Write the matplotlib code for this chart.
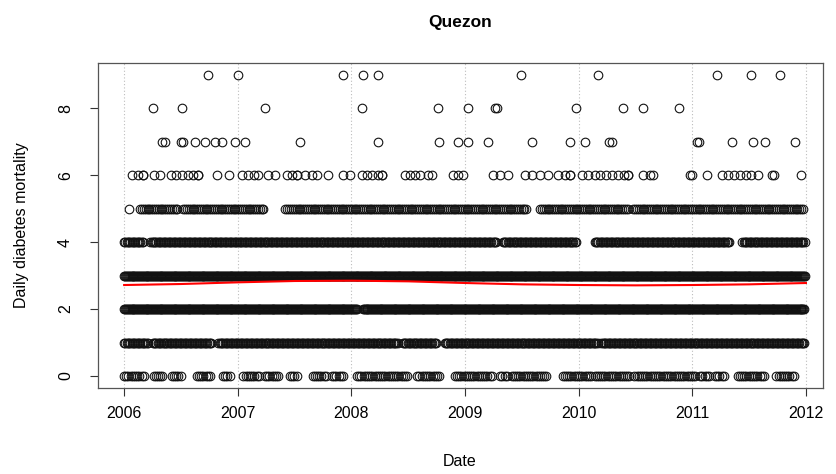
import numpy as np
import matplotlib
matplotlib.use("Agg")
import matplotlib.pyplot as plt

plt.rcParams['font.family'] = ['Liberation Sans', 'DejaVu Sans']

# Quezon daily diabetes deaths (x in fractional years).
# Busy count levels: stretches where the circles form an unbroken chain.
runs = {
    0: [(2006.00, 2006.19), (2006.26, 2006.34), (2006.42, 2006.51), (2006.64, 2006.76),
        (2006.87, 2006.93), (2007.05, 2007.20), (2007.24, 2007.37), (2007.46, 2007.53),
        (2007.66, 2007.78), (2007.83, 2007.94), (2008.05, 2008.50), (2008.58, 2008.78),
        (2008.91, 2009.25), (2009.31, 2009.37), (2009.41, 2009.72), (2009.86, 2010.12),
        (2010.14, 2010.45), (2010.49, 2011.04), (2011.07, 2011.15), (2011.20, 2011.29),
        (2011.40, 2011.64), (2011.74, 2011.90)],
    1: [(2006.00, 2006.21), (2006.25, 2006.77), (2006.83, 2008.41), (2008.45, 2008.75),
        (2008.82, 2010.17), (2010.20, 2011.99)],
    2: [(2006.00, 2008.05), (2008.10, 2011.99)],
    3: [(2006.00, 2011.99)],
    4: [(2006.00, 2006.17), (2006.23, 2009.28), (2009.33, 2009.98), (2010.14, 2011.33),
        (2011.44, 2011.99)],
    5: [(2006.14, 2006.47), (2006.52, 2007.24), (2007.42, 2009.54), (2009.66, 2010.44),
        (2010.48, 2011.99)],
}
# rough spacing (days) between days with that count inside a run
run_step_days = {0: 7, 1: 4, 2: 3, 3: 3, 4: 4, 5: 6}

# Sparse levels: single days
single_days = {
    5: [2006.04],
    6: [2006.07, 2006.12, 2006.17, 2006.17, 2006.26, 2006.32, 2006.41, 2006.46, 2006.51,
        2006.56, 2006.61, 2006.65, 2006.65, 2006.82, 2006.92, 2007.04, 2007.09, 2007.14,
        2007.18, 2007.27, 2007.33, 2007.43, 2007.48, 2007.52, 2007.52, 2007.59, 2007.65,
        2007.70, 2007.79, 2007.93, 2007.99, 2008.09, 2008.14, 2008.18, 2008.23, 2008.27,
        2008.27, 2008.47, 2008.52, 2008.56, 2008.60, 2008.67, 2008.71, 2008.89, 2008.94,
        2008.98, 2009.25, 2009.31, 2009.38, 2009.53, 2009.59, 2009.66, 2009.73, 2009.82,
        2009.88, 2009.92, 2009.92, 2010.03, 2010.08, 2010.14, 2010.19, 2010.24, 2010.29,
        2010.35, 2010.40, 2010.43, 2010.43, 2010.57, 2010.63, 2010.65, 2010.98, 2011.00,
        2011.13, 2011.26, 2011.31, 2011.37, 2011.42, 2011.47, 2011.52, 2011.58, 2011.70,
        2011.72, 2011.96],
    7: [2006.33, 2006.36, 2006.50, 2006.52, 2006.62, 2006.71, 2006.80, 2006.86, 2006.98,
        2007.06, 2007.55, 2008.23, 2008.77, 2008.94, 2009.03, 2009.20, 2009.59, 2009.92,
        2010.06, 2010.27, 2010.29, 2011.04, 2011.06, 2011.35, 2011.53, 2011.64, 2011.90],
    8: [2006.25, 2006.51, 2007.24, 2008.09, 2008.76, 2009.03, 2009.26, 2009.28, 2009.98,
        2010.39, 2010.57, 2010.88],
    9: [2006.74, 2007.00, 2007.93, 2008.10, 2008.23, 2009.49, 2010.17, 2011.22, 2011.52,
        2011.77],
}

# red smooth trend line
trend_years = [2006.0, 2006.5, 2007.0, 2007.5, 2008.0, 2008.5, 2009.0, 2009.5, 2010.0,
               2010.5, 2011.0, 2011.5, 2012.0]
trend_values = [2.72, 2.75, 2.80, 2.84, 2.85, 2.83, 2.78, 2.74, 2.72, 2.71, 2.72, 2.74, 2.78]

year_ticks = [2006, 2007, 2008, 2009, 2010, 2011, 2012]

W, H = 836, 474
fig = plt.figure(figsize=(W / 100, H / 100), dpi=100)
left, right, top, bottom = 98, 823, 63, 388
ax = fig.add_axes([left / W, 1 - bottom / H, (right - left) / W, (bottom - top) / H])

for yr in year_ticks:
    ax.axvline(yr, color='#bdbdbd', lw=0.8, ls=(0, (1, 2)), zorder=0)

xs, ys = [], []
for level, spans in runs.items():
    step = run_step_days[level] / 365.25
    for start, end in spans:
        days = np.arange(start, end + 1e-9, step)
        xs.extend(days)
        ys.extend([level] * len(days))
for level, days in single_days.items():
    xs.extend(days)
    ys.extend([level] * len(days))

ax.plot(xs, ys, 'o', ms=6.2, mfc='none', mec='#111111', mew=0.8, zorder=2)
ax.plot(trend_years, trend_values, color='red', lw=1.5, zorder=3)

ax.set_xlim(2005.77, 2012.15)
ax.set_ylim(-0.36, 9.36)
ax.set_xticks(year_ticks)
ax.set_xticklabels([str(y) for y in year_ticks])
ax.set_yticks([0, 2, 4, 6, 8])
ax.set_yticklabels(['0', '2', '4', '6', '8'], rotation=90, va='center')
ax.tick_params(axis='both', length=6, width=0.8, color='#333333', labelsize=11.5)
ax.tick_params(axis='x', pad=7)
ax.tick_params(axis='y', pad=12)
for sp in ax.spines.values():
    sp.set_color('#555555')
    sp.set_linewidth(0.9)

fig.text(460 / W, 1 - 22 / H, 'Quezon', ha='center', va='center',
         fontsize=12.5, fontweight='bold')
fig.text(460 / W, 1 - 462 / H, 'Date', ha='center', va='center', fontsize=11.5)
fig.text(22 / W, 1 - 225 / H, 'Daily diabetes mortality', ha='center', va='center',
         rotation=90, fontsize=11.5)

fig.savefig('out.png', dpi=100)
